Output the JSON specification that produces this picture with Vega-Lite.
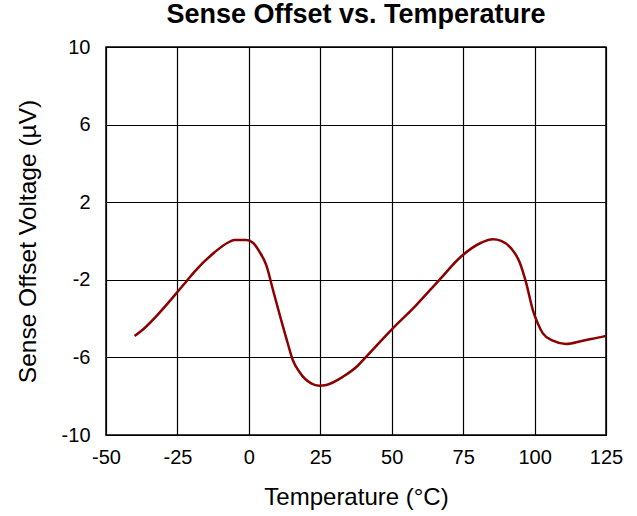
{
  "$schema": "https://vega.github.io/schema/vega-lite/v6.json",
  "autosize": "none",
  "width": 500,
  "height": 388,
  "padding": {"left": 106, "top": 47, "right": 31, "bottom": 81},
  "background": "white",
  "config": {
    "font": "Liberation Sans",
    "view": {"stroke": "black", "strokeWidth": 1.5}
  },
  "title": {
    "text": "Sense Offset vs. Temperature",
    "fontSize": 27,
    "fontWeight": "bold",
    "font": "Liberation Sans",
    "color": "black",
    "anchor": "middle",
    "frame": "group",
    "baseline": "alphabetic",
    "offset": 20,
    "dy": 33
  },
  "data": {
    "values": [
      {"t": -40, "v": -4.9},
      {"t": -37.7, "v": -4.64},
      {"t": -25.4, "v": -2.7},
      {"t": -21.4, "v": -2.0},
      {"t": -19, "v": -1.58},
      {"t": -12, "v": -0.58},
      {"t": -7.4, "v": -0.09},
      {"t": -5, "v": 0.05},
      {"t": -0.9, "v": 0.05},
      {"t": 1.4, "v": -0.09},
      {"t": 3.7, "v": -0.55},
      {"t": 6.1, "v": -1.24},
      {"t": 8.4, "v": -2.5},
      {"t": 11.3, "v": -4.07},
      {"t": 13.6, "v": -5.27},
      {"t": 15.4, "v": -6.15},
      {"t": 17.7, "v": -6.75},
      {"t": 21.8, "v": -7.34},
      {"t": 24.7, "v": -7.46},
      {"t": 27.1, "v": -7.42},
      {"t": 32.9, "v": -7.0},
      {"t": 38.1, "v": -6.43},
      {"t": 41.1, "v": -5.96},
      {"t": 49.8, "v": -4.59},
      {"t": 58.6, "v": -3.3},
      {"t": 66.7, "v": -2.0},
      {"t": 74.3, "v": -0.8},
      {"t": 81.3, "v": -0.09},
      {"t": 85.4, "v": 0.09},
      {"t": 88.3, "v": 0.01},
      {"t": 91.8, "v": -0.38},
      {"t": 94.7, "v": -1.07},
      {"t": 97.1, "v": -2.18},
      {"t": 99.4, "v": -3.56},
      {"t": 101.1, "v": -4.24},
      {"t": 102.9, "v": -4.76},
      {"t": 106.4, "v": -5.14},
      {"t": 111, "v": -5.31},
      {"t": 116.9, "v": -5.14},
      {"t": 123.9, "v": -4.93},
      {"t": 125, "v": -4.9}
    ]
  },
  "mark": {"type": "line", "color": "#8b0000", "strokeWidth": 2.5, "interpolate": "monotone"},
  "encoding": {
    "x": {
      "field": "t",
      "type": "quantitative",
      "scale": {"domain": [-50, 125], "nice": false, "zero": false},
      "axis": {
        "title": "Temperature (°C)",
        "values": [-50, -25, 0, 25, 50, 75, 100, 125],
        "labelExpr": "'' + datum.value",
        "grid": true,
        "gridColor": "black",
        "gridOpacity": 1,
        "gridWidth": 1.2,
        "domainColor": "black",
        "ticks": false,
        "tickSize": 0,
        "labelFontSize": 20,
        "labelColor": "black",
        "labelPadding": 12,
        "labelFlush": false,
        "titleFontSize": 24,
        "titleFontWeight": "normal",
        "titleColor": "black",
        "titlePadding": 18
      }
    },
    "y": {
      "field": "v",
      "type": "quantitative",
      "scale": {"domain": [-10, 10], "nice": false, "zero": false},
      "axis": {
        "title": "Sense Offset Voltage (µV)",
        "values": [-10, -6, -2, 2, 6, 10],
        "labelExpr": "'' + datum.value",
        "grid": true,
        "gridColor": "black",
        "gridOpacity": 1,
        "gridWidth": 1.2,
        "domainColor": "black",
        "ticks": false,
        "tickSize": 0,
        "labelFontSize": 20,
        "labelColor": "black",
        "labelPadding": 16,
        "labelFlush": false,
        "titleFontSize": 24.5,
        "titleFontWeight": "normal",
        "titleColor": "black",
        "titlePadding": 21
      }
    }
  }
}
